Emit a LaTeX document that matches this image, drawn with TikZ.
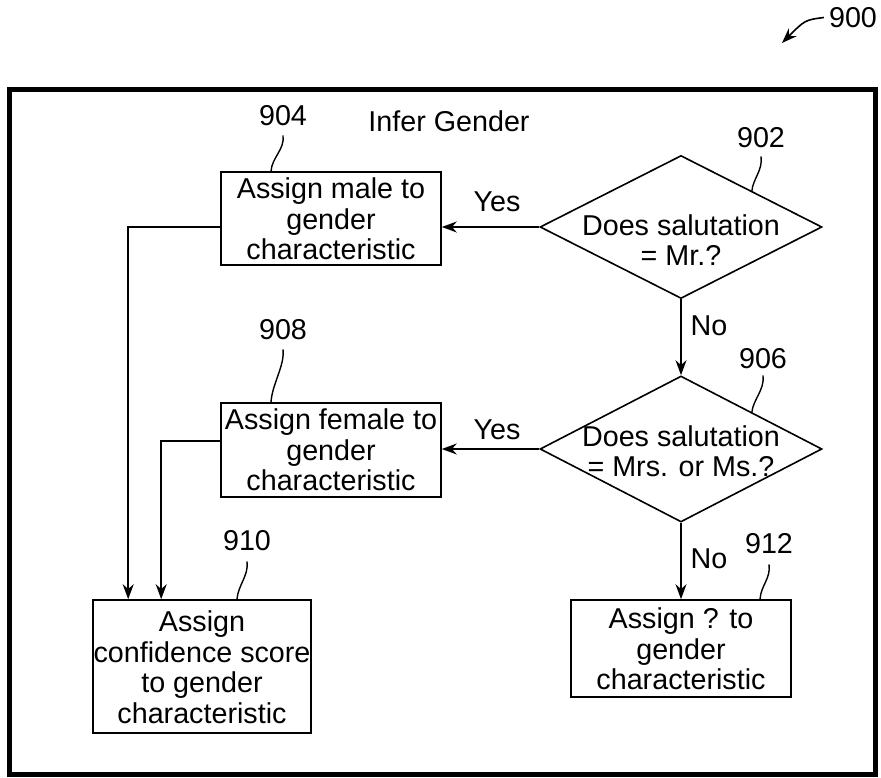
\documentclass[tikz,border=0pt]{standalone}
\usepackage{fontspec}
\setmainfont{Liberation Sans}
\usetikzlibrary{arrows.meta,shapes.geometric}
\begin{document}
\begin{tikzpicture}[x=1pt,y=-1pt,
  font=\fontsize{28.7}{30.5}\selectfont,
  line/.style={line width=1.6pt, draw=black},
  arr/.style={line, -{Stealth[length=15pt,width=11pt]}},
  stepbox/.style={draw, line width=1.6pt, rectangle, inner sep=0pt},
  steptext/.style={align=center, inner sep=0pt},
  decision/.style={draw, line width=1.6pt, diamond, inner sep=0pt},
  lbl/.style={inner sep=0pt},
  lead/.style={line width=1.4pt}]
\useasboundingbox (0,0) rectangle (881,778);

% outer frame
\draw[line width=5pt] (9.5,89.5) rectangle (875.5,774.5);

% figure number
\node[lbl] (l900) at (853,17.5) {900};
\coordinate (c900) at (782,43);
\draw[arr] ([xshift=-5pt]l900.west) .. controls (805,20) .. (c900);

% title
\node[lbl] (title) at (449,121) {Infer Gender};

% process boxes
\node[stepbox, minimum width=220pt, minimum height=93pt] (b904) at (331,218.5) {};
\node[steptext] (t904) at (331,219) {Assign male to\\gender\\characteristic};
\node[stepbox, minimum width=220pt, minimum height=94pt] (b908) at (331,450) {};
\node[steptext] (t908) at (331,450) {Assign female to\\gender\\characteristic};
\node[stepbox, minimum width=218pt, minimum height=133pt] (b910) at (202,666.5) {};
\node[steptext] (t910) at (202,667) {Assign\\confidence score\\to gender\\characteristic};
\node[stepbox, minimum width=220pt, minimum height=97pt] (b912) at (681,648.5) {};
\node[steptext] (t912) at (681,649) {Assign ? to\\gender\\characteristic};

% decisions
\node[decision, minimum width=282pt, minimum height=143pt] (d902) at (681,227) {};
\node[steptext] (t902) at (681,240) {Does salutation\\= Mr.?};
\node[decision, minimum width=282pt, minimum height=146pt] (d906) at (681,449) {};
\node[steptext] (t906) at (681,451) {Does salutation\\= Mrs. or Ms.?};

% reference numerals
\node[lbl] (l904) at (283,116) {904};
\node[lbl] (l908) at (283,330) {908};
\node[lbl] (l910) at (247,541) {910};
\node[lbl] (l912) at (769,544) {912};
\node[lbl] (l902) at (761,138) {902};
\node[lbl] (l906) at (763,359) {906};

% leader lines
\draw[lead] ([yshift=-9pt]l904.south) .. controls +(2,14) and +(1,-14) .. ([xshift=-60pt]b904.north);
\draw[lead] ([yshift=-9pt]l908.south) .. controls +(2,16) and +(1,-18) .. ([xshift=-60pt]b908.north);
\draw[lead] ([yshift=-10pt]l910.south) .. controls +(2,14) and +(1,-14) .. ([xshift=35pt]b910.north);
\draw[lead] ([yshift=-10pt]l912.south) .. controls +(2,14) and +(1,-14) .. ([xshift=79pt]b912.north);
\draw[lead] ([yshift=-8pt]l902.south) .. controls +(2,14) and +(1,-12) .. (d902.north east);
\draw[lead] ([yshift=-6pt]l906.south) .. controls +(2,14) and +(1,-12) .. (d906.north east);

% branch labels
\node[lbl] (yes1) at (497,202) {Yes};
\node[lbl] (yes2) at (497,430) {Yes};
\node[lbl] (no1) at (709,326) {No};
\node[lbl] (no2) at (709,559) {No};

% connectors
\draw[arr] (d902.west) -- (d902.west -| b904.east);
\draw[arr] (d902.south) -- (d906.north);
\draw[arr] (d906.west) -- (d906.west -| b908.east);
\draw[arr] (d906.south) -- (b912.north);
\draw[arr] (d902.west -| b904.west) -| ([xshift=36pt]b910.north west);
\draw[arr] ([yshift=9pt]b908.west) -| ([xshift=69pt]b910.north west);
\end{tikzpicture}
\end{document}
